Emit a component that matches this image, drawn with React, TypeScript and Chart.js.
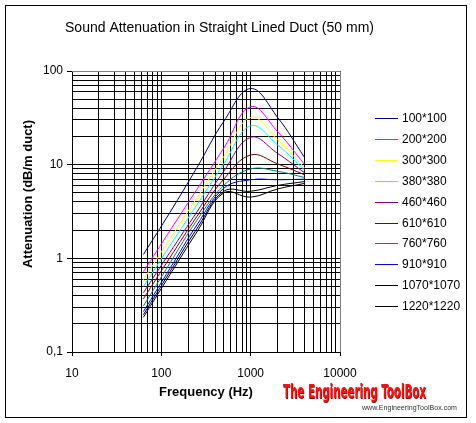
import { useEffect, useRef } from "react";
import { Chart, registerables } from "chart.js";

Chart.register(...registerables);

// ---- data ----
const frequencies = [63, 125, 250, 500, 1000, 2000, 4000];
const ductSizes = [
  "100*100", "200*200", "300*300", "380*380", "460*460",
  "610*610", "760*760", "910*910", "1070*1070", "1220*1220",
];
const att100 = [1.1, 3.1, 9.3, 29, 65, 32, 12];
const att200 = [0.72, 1.98, 5.45, 15, 41.6, 22.5, 10.1];
const att300 = [0.59, 1.62, 4.43, 12.2, 32, 18.4, 9.3];
const att380 = [0.5, 1.37, 3.73, 10.2, 26, 16.2, 8.8];
const att460 = [0.43, 1.16, 3.13, 8.5, 19.6, 13.2, 8.2];
const att610 = [0.37, 1.02, 2.8, 7.0, 12.7, 10.2, 7.8];
const att760 = [0.31, 0.89, 2.55, 6.0, 9.0, 8.5, 7.3];
const att910 = [0.27, 0.78, 2.27, 5.6, 6.9, 6.9, 7.0];
const att1070 = [0.25, 0.72, 2.07, 5.2, 5.2, 6.0, 6.6];
const att1220 = [0.235, 0.67, 1.91, 5.0, 4.5, 5.5, 6.3];
const seriesValues = [att100, att200, att300, att380, att460, att610, att760, att910, att1070, att1220];

const xMajorValues = [10, 100, 1000, 10000];
const xTickLabels = ["10", "100", "1000", "10000"];
const yMajorValues = [0.1, 1, 10, 100];
const yTickLabels = ["0,1", "1", "10", "100"];

const titleText = "Sound Attenuation in Straight Lined Duct (50 mm)";
const xTitle = "Frequency (Hz)";
const yTitle = "Attenuation (dB/m duct)";

// ---- styles ----
const seriesColors = [
  "#000080", "#FF00FF", "#FFFF00", "#00FFFF", "#800080",
  "#800000", "#008080", "#0000FF", "#000000", "#000000",
];
const FONT = '"Liberation Sans", Arial, sans-serif';

function logTicks(majors: number[]) {
  const out: number[] = [];
  for (let i = 0; i < majors.length - 1; i++) {
    for (let k = 1; k < 10; k++) out.push(parseFloat((majors[i] * k).toPrecision(4)));
  }
  out.push(majors[majors.length - 1]);
  return out;
}
function majorIndex(v: number, majors: number[]) {
  return majors.findIndex((m) => Math.abs(v - m) / m < 1e-6);
}

const decorPlugin = {
  id: "decor",
  afterDraw(chart: any) {
    const ctx = chart.ctx as CanvasRenderingContext2D;
    const { left, top, right, bottom } = chart.chartArea;
    ctx.save();
    // plot frame top/right
    ctx.strokeStyle = "#808080";
    ctx.lineWidth = 1;
    ctx.beginPath();
    ctx.moveTo(left, Math.round(top) + 0.5);
    ctx.lineTo(Math.round(right) + 0.5, Math.round(top) + 0.5);
    ctx.lineTo(Math.round(right) + 0.5, bottom);
    ctx.stroke();
    // outer border
    ctx.strokeStyle = "#000";
    ctx.strokeRect(5.5, 5.5, 461, 412);
    // title
    ctx.fillStyle = "#000";
    ctx.textAlign = "center";
    ctx.textBaseline = "middle";
    ctx.font = `14px ${FONT}`;
    ctx.fillText(titleText, 219.5, 28);
    // axis titles
    ctx.font = `bold 13px ${FONT}`;
    ctx.fillText(xTitle, 206, 392);
    ctx.save();
    ctx.translate(28, 194);
    ctx.rotate(-Math.PI / 2);
    ctx.fillText(yTitle, 0, 0);
    ctx.restore();
    // legend
    ctx.textAlign = "left";
    ctx.font = `12px ${FONT}`;
    chart.data.datasets.forEach((ds: any, i: number) => {
      const y = Math.round(118 + i * 20.9);
      ctx.strokeStyle = ds.borderColor;
      ctx.lineWidth = 1;
      ctx.beginPath();
      ctx.moveTo(375, y + 0.5);
      ctx.lineTo(398, y + 0.5);
      ctx.stroke();
      ctx.fillStyle = "#000";
      ctx.fillText(ds.label, 402, y + 1);
    });
    // watermark
    ctx.font = `bold 19px "DejaVu Sans Condensed", "DejaVu Sans", sans-serif`;
    const wm = "The Engineering ToolBox";
    const w = ctx.measureText(wm).width;
    ctx.save();
    ctx.translate(283, 393);
    ctx.scale(143 / w, 1.05);
    ctx.fillStyle = "#8a0000";
    ctx.fillText(wm, 0.8, 0.8);
    ctx.fillStyle = "#ff1010";
    ctx.fillText(wm, 0, 0);
    ctx.restore();
    ctx.font = `7px ${FONT}`;
    const url = "www.EngineeringToolBox.com";
    const uw = ctx.measureText(url).width;
    ctx.save();
    ctx.translate(362, 408);
    ctx.scale(95 / uw, 1.1);
    ctx.fillStyle = "#333";
    ctx.fillText(url, 0, 0);
    ctx.restore();
    ctx.restore();
  },
};

export default function App() {
  const ref = useRef<HTMLCanvasElement | null>(null);
  useEffect(() => {
    if (!ref.current) return;
    const xTicks = logTicks(xMajorValues);
    const yTicks = logTicks(yMajorValues);
    const chart = new Chart(ref.current, {
      type: "line",
      data: {
        datasets: seriesValues.map((vals, i) => ({
          label: ductSizes[i],
          data: frequencies.map((f, j) => ({ x: f, y: vals[j] })),
          borderColor: seriesColors[i],
          backgroundColor: seriesColors[i],
          borderWidth: 1,
          pointRadius: 0,
          tension: 0.4,
          fill: false,
        })),
      },
      options: {
        animation: false,
        responsive: false,
        devicePixelRatio: 1,
        layout: { padding: { left: 0, top: 71, right: 136, bottom: 0 } },
        plugins: { legend: { display: false }, title: { display: false }, tooltip: { enabled: false } },
        scales: {
          x: {
            type: "logarithmic",
            min: 10,
            max: 10000,
            afterBuildTicks: (s: any) => { s.ticks = xTicks.map((v) => ({ value: v })); },
            afterFit: (s: any) => { s.height = 71; },
            ticks: {
              autoSkip: false,
              maxRotation: 0,
              padding: 10,
              color: "#000",
              font: { family: FONT, size: 12 },
              callback: (v: any) => {
                const k = majorIndex(Number(v), xMajorValues);
                return k >= 0 ? xTickLabels[k] : "";
              },
            },
            grid: {
              color: "#000",
              lineWidth: 1,
              tickLength: 4,
              tickColor: (c: any) => (c.tick && majorIndex(c.tick.value, xMajorValues) >= 0 ? "#000" : "rgba(0,0,0,0)"),
            },
            border: { color: "#000", width: 1 },
          },
          y: {
            type: "logarithmic",
            min: 0.1,
            max: 100,
            afterBuildTicks: (s: any) => { s.ticks = yTicks.map((v) => ({ value: v })); },
            afterFit: (s: any) => { s.width = 72; },
            ticks: {
              autoSkip: false,
              padding: 4,
              color: "#000",
              font: { family: FONT, size: 12 },
              callback: (v: any) => {
                const k = majorIndex(Number(v), yMajorValues);
                return k >= 0 ? yTickLabels[k] : "";
              },
            },
            grid: {
              color: "#000",
              lineWidth: 1,
              tickLength: 5,
              tickColor: (c: any) => (c.tick && majorIndex(c.tick.value, yMajorValues) >= 0 ? "#000" : "rgba(0,0,0,0)"),
            },
            border: { color: "#000", width: 1 },
          },
        },
      },
      plugins: [decorPlugin],
    });
    return () => chart.destroy();
  }, []);
  return (
    <div style={{ position: "absolute", left: 0, top: 0, width: 476, height: 423, background: "#fff" }}>
      <canvas ref={ref} width={476} height={423} style={{ width: 476, height: 423, display: "block" }} />
    </div>
  );
}
